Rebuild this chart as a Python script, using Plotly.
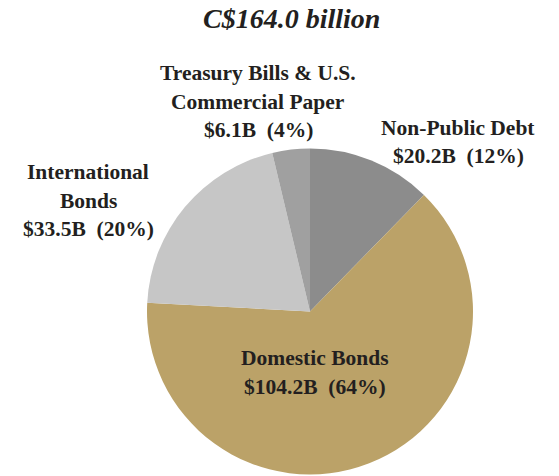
import plotly.graph_objects as go

# Portfolio composition
title_text = "C$164.0 billion"
categories = ["Non-Public Debt", "Domestic Bonds", "International Bonds",
              "Treasury Bills & U.S. Commercial Paper"]
values = [20.2, 104.2, 33.5, 6.1]
pct_labels = ["12%", "64%", "20%", "4%"]
colors = ["#8c8c8c", "#bba268", "#c6c6c6", "#a0a0a0"]

W, H = 559, 476
FONT = "Liberation Serif"

fig = go.Figure(go.Pie(
    labels=categories, values=values, sort=False, direction="clockwise",
    rotation=0, marker=dict(colors=colors, line=dict(width=0)),
    textinfo="none", hoverinfo="label+value+percent", showlegend=False,
    domain=dict(x=[147 / W, 473 / W], y=[1 / H, 1 - 148 / H]),
))

# label text lines and where each label block sits (pixels: center x, first-line y)
label_lines = [
    ["Non-Public Debt"],
    ["Domestic Bonds"],
    ["International", "Bonds"],
    ["Treasury Bills & U.S.", "Commercial Paper"],
]
label_pos = [(458, 128), (315, 358), (88, 172), (258, 73)]

annotations = []
for lines, val, pct, (px_, py_) in zip(label_lines, values, pct_labels, label_pos):
    rows = lines + [f"${val:.1f}B\u00a0\u00a0({pct})"]
    for i, row in enumerate(rows):
        annotations.append(dict(
            x=px_ / W, y=1 - (py_ + i * 28.5) / H, xref="paper", yref="paper",
            text=f"<b>{row}</b>", showarrow=False, xanchor="center", yanchor="middle",
            font=dict(family=FONT, size=21.5, color="#231f20"),
        ))

annotations.append(dict(
    x=291 / W, y=1 - 19 / H, xref="paper", yref="paper",
    text=f"<b><i>{title_text}</i></b>", showarrow=False,
    xanchor="center", yanchor="middle",
    font=dict(family=FONT, size=28, color="#231f20"),
))

fig.update_layout(
    width=W, height=H, margin=dict(l=0, r=0, t=0, b=0),
    paper_bgcolor="white", plot_bgcolor="white",
    annotations=annotations,
)

fig.write_html("out.html", config={"displayModeBar": False},
               post_script="document.body.style.margin='0';")
